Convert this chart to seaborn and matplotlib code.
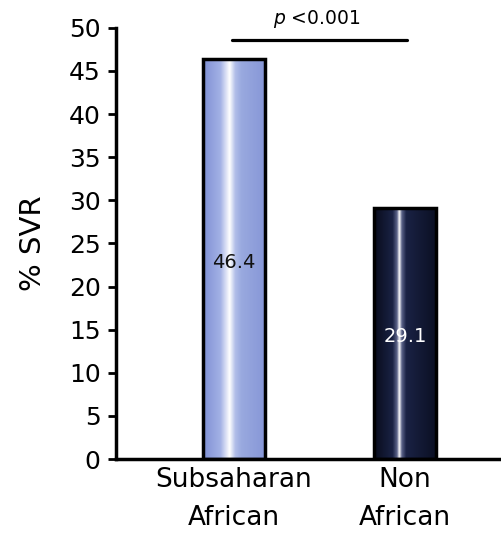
import numpy as np
import pandas as pd
import matplotlib
matplotlib.use("Agg")
import matplotlib.pyplot as plt
from matplotlib.colors import LinearSegmentedColormap
import seaborn as sns

# data
groups = ["Subsaharan\nAfrican", "Non\nAfrican"]
svr = [46.4, 29.1]
p_text = "<0.001"

# shading of each bar: (position across bar, colour)
bar_shades = [
    [(0, "#7f90d4"), (0.28, "#a3b1e5"), (0.43, "#ffffff"), (0.52, "#b2bee9"),
     (0.62, "#99a9df"), (1, "#8797d7")],
    [(0, "#080c1c"), (0.3, "#1a2244"), (0.37, "#5a6288"), (0.41, "#ffffff"),
     (0.45, "#5a6288"), (0.52, "#1a2244"), (1, "#0b1024")],
]
label_colors = ["#111111", "#ffffff"]

sns.set_style("ticks", {"axes.edgecolor": "black", "text.color": "black",
                        "axes.labelcolor": "black", "xtick.color": "black",
                        "ytick.color": "black"})
plt.rcParams["font.family"] = ["DejaVu Sans"]

df = pd.DataFrame({"group": groups, "svr": svr})

fig = plt.figure(figsize=(5.02, 5.35), dpi=100)
ax = fig.add_axes([0.231, 0.142, 0.769, 0.806])

sns.barplot(data=df, x="group", y="svr", ax=ax, width=0.357,
            color="white", edgecolor="black", linewidth=2.5)

ax.set_xlim(-0.69, 1.567)
ax.set_ylim(0, 50)

# gradient fill clipped to each bar
xs = np.linspace(0, 1, 300)
for patch, shade in zip(ax.patches, bar_shades):
    cmap = LinearSegmentedColormap.from_list("g", shade)
    x0, y0 = patch.get_x(), patch.get_y()
    w, h = patch.get_width(), patch.get_height()
    im = ax.imshow(xs[np.newaxis, :], cmap=cmap, aspect="auto",
                   extent=[x0, x0 + w, y0, y0 + h], zorder=2)
    im.set_clip_path(patch)
    patch.set_facecolor("none")
    patch.set_zorder(3)

# value labels in the middle of each bar
for i, (v, c) in enumerate(zip(svr, label_colors)):
    ax.text(i, v / 2 - 0.4, f"{v}", ha="center", va="center",
            fontsize=14, color=c, zorder=4)

# significance bar
ax.plot([-0.01, 1.01], [48.6, 48.6], color="black", lw=2.3, clip_on=False)
ax.text(0.485, 49.8, r"$\it{p}$ " + p_text, ha="center", va="bottom", fontsize=13.5)

ax.set_yticks(range(0, 51, 5))
ax.tick_params(axis="y", labelsize=18, width=2, length=6, pad=5)
ax.tick_params(axis="x", labelsize=19, length=0, pad=6)
for lab in ax.get_xticklabels():
    lab.set_linespacing(1.6)
ax.set_xlabel("")
ax.set_ylabel("% SVR", fontsize=21, labelpad=16)

sns.despine(ax=ax)
ax.spines["left"].set_linewidth(2.5)
ax.spines["bottom"].set_linewidth(2.5)

fig.savefig("out.png", dpi=100)
